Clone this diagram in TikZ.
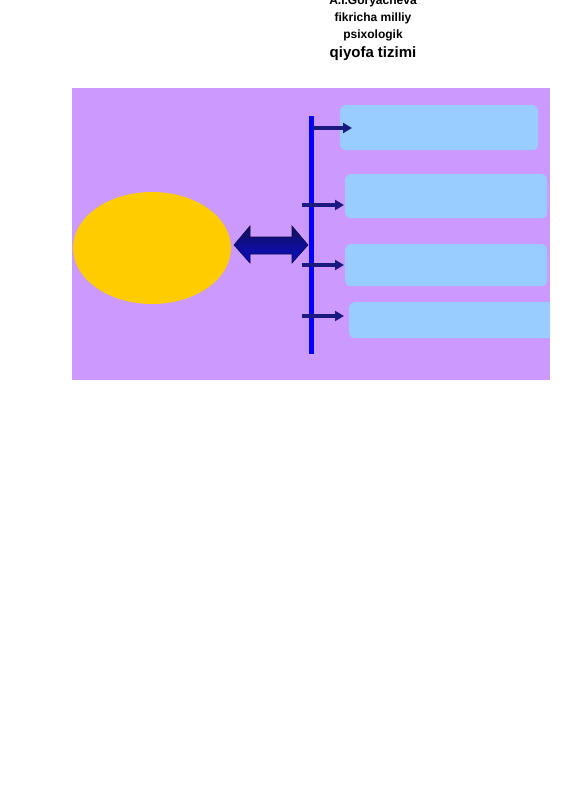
\documentclass[tikz,border=0pt]{standalone}
\usepackage{fontspec}
\setmainfont{Liberation Sans}
\usetikzlibrary{arrows.meta,shapes.geometric,positioning}
\definecolor{lilac}{HTML}{CC99FF}
\definecolor{sun}{HTML}{FFCC00}
\definecolor{sky}{HTML}{99CCFF}
\definecolor{navy}{HTML}{1A1A80}

\begin{document}
\begin{tikzpicture}
      [x = 1pt, y = -1pt,
      title/.style= {
         anchor = base,
         inner sep = 0pt,
         font = \bfseries\fontsize{12}{14}\selectfont
      },
      slot/.style= {
         fill = sky,
         rounded corners = 5pt,
         anchor = north west,
         inner sep = 0pt
      },
      pointer/.style= {
         navy,
         line width = 3.5pt,
         -{Triangle[length = 9pt, width = 10pt]}
      }]

      \useasboundingbox (0, 0) rectangle (565, 800);

      \node[title] (t1) at (373, 5) {A.I.Goryacheva};
      \node[title] (t2) at (373, 22) {fikricha milliy};
      \node[title] (t3) at (373, 39) {psixologik};
      \node[title, font = \bfseries\fontsize{15}{17}\selectfont] (t4) at (373, 57) {qiyofa tizimi};

      \fill[lilac] (72, 88) rectangle (550, 380);

      \node[ellipse, fill = sun, minimum width = 158pt, minimum height = 112pt,
            inner sep = 0pt] (core) at (152, 248) {};

      \begin{scope}
         \clip (72, 88) rectangle (550, 380);
         \node[slot, minimum width = 198pt, minimum height = 45pt] (s1) at (340, 105) {};
         \node[slot, minimum width = 202pt, minimum height = 44pt] (s2) at (345, 174) {};
         \node[slot, minimum width = 202pt, minimum height = 42pt] (s3) at (345, 244) {};
         \node[slot, minimum width = 210pt, minimum height = 36pt] (s4) at (349, 302) {};
      \end{scope}

      \coordinate (top) at (311, 116);
      \coordinate (bottom) at (311, 354);
      \draw[blue, line width = 5pt] (top) -- (bottom);

      \shade[top color = navy!70!black, bottom color = blue!60!navy, draw = navy!50!black,
             line width = 0.6pt]
         (234, 245) -- (250, 226) -- (250, 237) -- (292, 237) -- (292, 226) -- (308, 245)
         -- (292, 263) -- (292, 254) -- (250, 254) -- (250, 263) -- cycle;

      \coordinate (a1) at (313, 128);
      \coordinate (b1) at (352, 128);
      \coordinate (a2) at (302, 205);
      \coordinate (b2) at (344, 205);
      \coordinate (a3) at (302, 265);
      \coordinate (b3) at (344, 265);
      \coordinate (a4) at (302, 316);
      \coordinate (b4) at (344, 316);

      \foreach \i in {1, 2, 3, 4}
         \draw[pointer] (a\i) -- (b\i);

\end{tikzpicture}
\end{document}
